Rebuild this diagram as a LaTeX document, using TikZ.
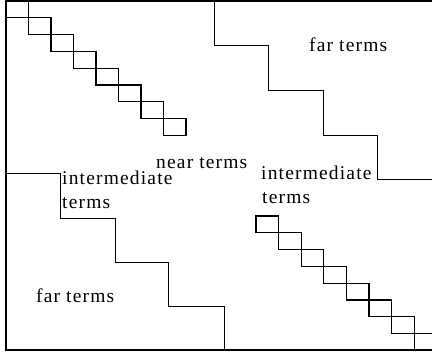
\documentclass[tikz,border=0pt]{standalone}
\usepackage{fontspec}
\setmainfont{Liberation Serif}[LetterSpace=6]
\begin{document}
\begin{tikzpicture}[x=1pt,y=-1pt,
  frame/.style={line width=1.1pt, black},
  stair/.style={line width=0.9pt, black},
  blk/.style={line width=1.1pt, black},
  lbl/.style={anchor=base west, inner sep=0pt, font=\fontsize{19.5}{21}\selectfont}]
\useasboundingbox (0,0) rectangle (432,353);
\begin{scope}
\clip (0,0) rectangle (432,353);
% outer frame (open on the right)
\draw[frame] (432,1) -- (6,1) -- (6,350) -- (432,350);
% near-diagonal blocks, upper left
\foreach \i in {0,...,7}
  \draw[blk] (6+\i*22.5,1+\i*16.8) rectangle ++(22.5,16.8);
% near-diagonal blocks, lower right
\foreach \i in {0,...,7}
  \draw[blk] (256+\i*22.6,216+\i*16.8) rectangle ++(22.6,16.8);
% staircase boundaries between intermediate and far terms
\draw[stair] (214,1) -- (214,45) -- (268,45) -- (268,90) -- (323,90)
  -- (323,135) -- (377,135) -- (377,179) -- (432,179);
\draw[stair] (6,173) -- (60,173) -- (60,218) -- (115,218) -- (115,262)
  -- (168,262) -- (168,306) -- (224,306) -- (224,350);
\end{scope}
% region labels
\node[lbl] (farTR) at (309,52) {far terms};
\node[lbl] (near) at (156,169) {near terms};
\node[lbl] (midL1) at (62,185) {intermediate};
\node[lbl] (midL2) at (62,209) {terms};
\node[lbl] (midR1) at (261,180) {intermediate};
\node[lbl] (midR2) at (262,204) {terms};
\node[lbl] (farBL) at (36,302) {far terms};
\end{tikzpicture}
\end{document}
